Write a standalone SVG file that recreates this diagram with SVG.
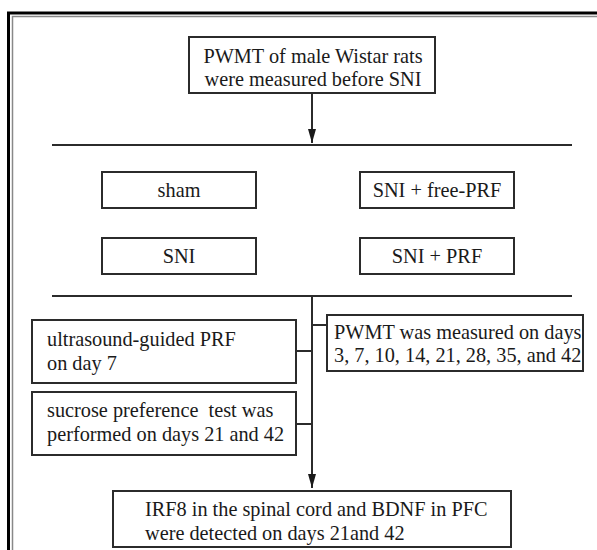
<svg xmlns="http://www.w3.org/2000/svg" width="597" height="550" viewBox="0 0 597 550">
  <style>
    .box { fill: #ffffff; stroke: #2b2b2b; stroke-width: 2; }
    .ln { fill: none; stroke: #2b2b2b; stroke-width: 2; }
    text { font-family: "Liberation Serif", "Times New Roman", serif; font-size: 20.3px; fill: #1a1a1a; }
    .c { text-anchor: middle; }
  </style>
  <defs>
    <marker id="arr" viewBox="0 0 14 8" refX="14" refY="4" markerWidth="7" markerHeight="4" markerUnits="strokeWidth" orient="auto">
      <path d="M0,0 L14,4 L0,8 z" fill="#1a1a1a"/>
    </marker>
  </defs>
  <rect width="597" height="550" fill="#ffffff"/>
  <!-- double frame, open on the right and bottom -->
  <g id="frame">
    <path d="M8.5,550 V13 H597" fill="none" stroke="#000" stroke-width="3"/>
    <path d="M12.5,550 V16.5 H597" fill="none" stroke="#888" stroke-width="1.5"/>
  </g>

  <g id="connectors">
    <line class="ln" x1="312" y1="93" x2="312" y2="143" marker-end="url(#arr)"/>
    <line class="ln" x1="52" y1="145" x2="572" y2="145"/>
    <line class="ln" x1="52" y1="296" x2="572" y2="296"/>
    <line class="ln" x1="312" y1="296" x2="312" y2="488" marker-end="url(#arr)"/>
    <line class="ln" x1="312" y1="325" x2="327" y2="325"/>
    <line class="ln" x1="296" y1="351" x2="312" y2="351"/>
    <line class="ln" x1="296" y1="424" x2="312" y2="424"/>
  </g>

  <g id="start">
    <rect class="box" x="189" y="37" width="246" height="56"/>
    <text class="c" x="313" y="63">PWMT of male Wistar rats</text>
    <text class="c" x="313" y="86">were measured before SNI</text>
  </g>
  <g id="sham">
    <rect class="box" x="102" y="172" width="154" height="36"/>
    <text class="c" x="179" y="197">sham</text>
  </g>
  <g id="sni-free-prf">
    <rect class="box" x="360" y="172" width="154" height="36"/>
    <text class="c" x="437" y="197">SNI + free-PRF</text>
  </g>
  <g id="sni">
    <rect class="box" x="102" y="238" width="154" height="36"/>
    <text class="c" x="179" y="263">SNI</text>
  </g>
  <g id="sni-prf">
    <rect class="box" x="360" y="238" width="154" height="36"/>
    <text class="c" x="437" y="263">SNI + PRF</text>
  </g>
  <g id="pwmt">
    <rect class="box" x="327" y="315" width="256" height="56"/>
    <text x="334" y="339">PWMT was measured on days</text>
    <text x="334" y="362">3, 7, 10, 14, 21, 28, 35, and 42</text>
  </g>
  <g id="ultrasound">
    <rect class="box" x="32" y="320" width="264" height="63"/>
    <text x="47" y="346">ultrasound-guided PRF</text>
    <text x="47" y="370">on day 7</text>
  </g>
  <g id="sucrose">
    <rect class="box" x="32" y="392" width="264" height="63"/>
    <text x="47" y="417" xml:space="preserve">sucrose preference  test was</text>
    <text x="47" y="441">performed on days 21 and 42</text>
  </g>
  <g id="detect">
    <rect class="box" x="113" y="491" width="398" height="56"/>
    <text x="145" y="516">IRF8 in the spinal cord and BDNF in PFC</text>
    <text x="145" y="540">were detected on days 21and 42</text>
  </g>
</svg>
